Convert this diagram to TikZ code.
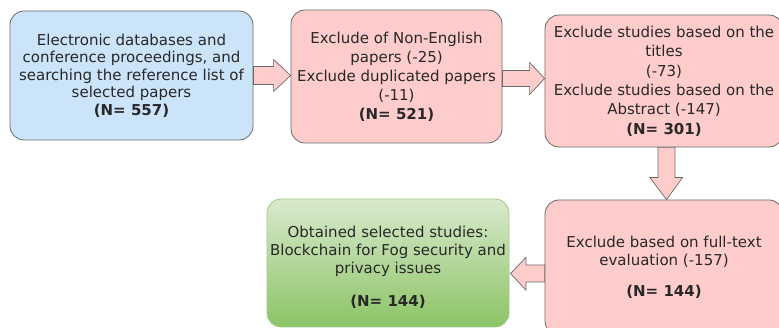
\documentclass[tikz,border=0pt]{standalone}
\usepackage{fontspec}
\setmainfont{DejaVu Sans}
\usetikzlibrary{calc}
\definecolor{bluefill}{RGB}{204,228,250}
\definecolor{pinkfill}{RGB}{255,204,204}
\definecolor{edgegray}{RGB}{105,105,105}
\definecolor{greentop}{RGB}{216,233,205}
\definecolor{greenbot}{RGB}{140,196,102}
\definecolor{greenedge}{RGB}{160,205,135}
\definecolor{txt}{RGB}{40,40,40}
\begin{document}
\begin{tikzpicture}[x=1pt,y=-1pt,
  font=\fontsize{15}{17.5}\selectfont,
  box/.style={draw=edgegray, line width=0.8pt, rounded corners=14pt, align=center, inner sep=0pt, text=txt},
  bluebox/.style={box, fill=bluefill},
  pinkbox/.style={box, fill=pinkfill},
  greenbox/.style={box, draw=greenedge, top color=greentop, bottom color=greenbot},
  blockarrow/.style={draw=edgegray, line width=0.7pt, fill=pinkfill, line join=miter}
]
\useasboundingbox (0,0) rectangle (779,328);
\clip (0,0) rectangle (779,328);

\node[bluebox, minimum width=243pt, minimum height=129pt] (b1) at (131.5,75.5)
  {Electronic databases and\\conference proceedings, and\\searching the reference list of\\selected papers\\\textbf{(N= 557)}};

\node[pinkbox, minimum width=211pt, minimum height=133pt, font=\fontsize{15}{19}\selectfont] (b2) at (396.5,76.5)
  {Exclude of Non-English\\papers (-25)\\Exclude duplicated papers\\(-11)\\\textbf{(N= 521)}};

\node[pinkbox, minimum width=238pt, minimum height=132pt, font=\fontsize{15}{19.4}\selectfont] (b3) at (664,81)
  {Exclude studies based on the\\titles\\(-73)\\Exclude studies based on the\\Abstract (-147)\\\textbf{(N= 301)}};

\node[pinkbox, minimum width=238pt, minimum height=135pt] (b4) at (664,267.5)
  {Exclude based on full-text\\evaluation (-157)\\[14pt]\textbf{(N= 144)}};

\node[greenbox, minimum width=242pt, minimum height=128pt, font=\fontsize{15}{18}\selectfont] (b5) at (388,263)
  {\rule{0pt}{20pt}Obtained selected studies:\\Blockchain for Fog security and\\privacy issues\\[15pt]\textbf{(N= 144)}};

% arrow b1 -> b2 (centre y 75.5)
\draw[blockarrow] ($(b1.east)+(0,-9)$) -- ($(b2.west)+(-17,-10)$) -- ($(b2.west)+(-17,-17)$)
  -- ($(b2.west)+(0,-1)$) -- ($(b2.west)+(-17,15)$) -- ($(b2.west)+(-17,8)$)
  -- ($(b1.east)+(0,9)$) -- cycle;

% arrow b2 -> b3 (centre y 78.5)
\draw[blockarrow] ($(b2.east)+(0,-6)$) -- ($(b3.west)+(-15,-10.5)$) -- ($(b3.west)+(-15,-18.5)$)
  -- ($(b3.west)+(0,-2.5)$) -- ($(b3.west)+(-15,13.5)$) -- ($(b3.west)+(-15,5.5)$)
  -- ($(b2.east)+(0,10)$) -- cycle;

% arrow b3 -> b4 (centre x 666.5)
\draw[blockarrow] ($(b3.south)+(-6,0)$) -- ($(b4.north)+(-6,-22)$) -- ($(b4.north)+(-14,-22)$)
  -- ($(b4.north)+(2.5,0)$) -- ($(b4.north)+(18.5,-22)$) -- ($(b4.north)+(11,-22)$)
  -- ($(b3.south)+(11,0)$) -- cycle;

% arrow b4 -> b5 (centre y 273.5)
\draw[blockarrow] ($(b4.west)+(0,-2.5)$) -- ($(b5.east)+(16.5,2)$) -- ($(b5.east)+(16.5,-5.5)$)
  -- ($(b5.east)+(1,10.5)$) -- ($(b5.east)+(16.5,27)$) -- ($(b5.east)+(16.5,19)$)
  -- ($(b4.west)+(0,14.5)$) -- cycle;
\end{tikzpicture}
\end{document}
